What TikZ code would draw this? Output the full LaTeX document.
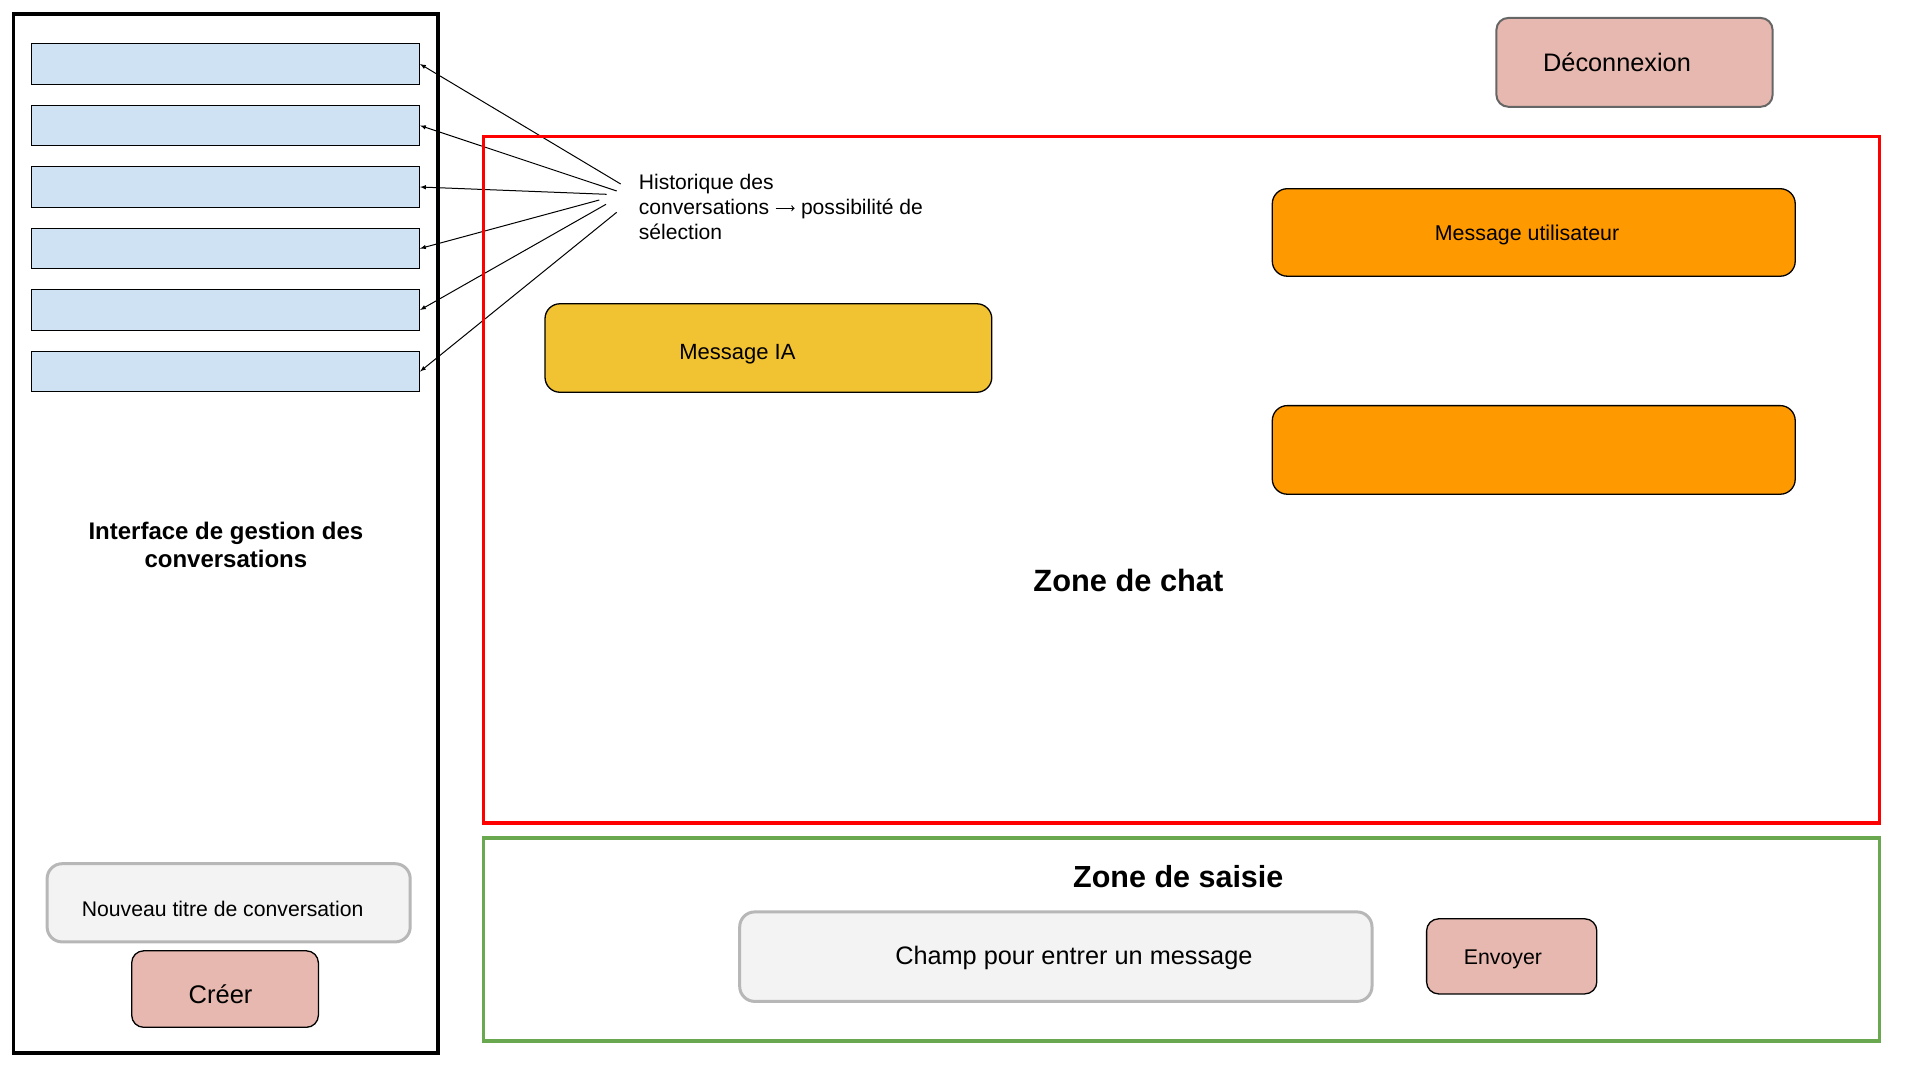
\documentclass[tikz,border=0pt]{standalone}
\usepackage{fontspec}
\setmainfont{Liberation Sans}
\usetikzlibrary{positioning}

\definecolor{convbleu}{HTML}{CFE2F3}
\definecolor{rose}{HTML}{E6B8AF}
\definecolor{orange}{HTML}{FF9900}
\definecolor{jaune}{HTML}{F1C232}
\definecolor{gristxt}{HTML}{F3F3F3}
\definecolor{grisbord}{HTML}{B7B7B7}
\definecolor{grisfonce}{HTML}{666666}
\definecolor{vert}{HTML}{6AA84F}
\definecolor{rouge}{HTML}{FF0000}

\newcommand{\fleche}{\tikz[baseline=0pt]\draw[-to, line width=1.2pt] (0pt,6pt) -- (19pt,6pt);}

\tikzset{
    convbox/.style={draw, line width=1.3pt, fill=convbleu, minimum width=387.6pt, minimum height=40.5pt, inner sep=0pt},
    bouton/.style={draw, line width=1.3pt, fill=rose, rounded corners=12pt, inner sep=0pt},
    bulle/.style={draw, line width=1.3pt, rounded corners=15pt, inner sep=0pt},
    saisie/.style={draw=grisbord, fill=gristxt, line width=3pt, rounded corners=15pt, inner sep=0pt},
    texte/.style={inner sep=0pt, font=\fontsize{#1}{25.2}\selectfont},
    titre/.style={inner sep=0pt, align=center, font=\bfseries\fontsize{#1}{28}\selectfont},
}

\begin{document}
\begin{tikzpicture}[x=1pt, y=-1pt]
    \useasboundingbox (0,0) rectangle (1920,1080);
    % panneau de gauche
    \draw[line width=3.5pt] (13.5,13.8) rectangle (438,1053);
    \foreach \i in {1,...,6}
        \node[convbox] (conv\i) at (225.6, 2.5+61.5*\i) {};
    \node[titre=24] (gestion) at (225.9,544.8) {Interface de gestion des\\conversations};
    \node[saisie, minimum width=363.1pt, minimum height=78.2pt] (nouveau) at (228.65,902.8) {};
    \node[texte=21.2] (nouveautxt) at ([shift={(-6,5.7)}]nouveau.center) {Nouveau titre de conversation};
    \node[bouton, minimum width=186.7pt, minimum height=76.5pt] (creer) at (225.05,989.05) {};
    \node[texte=25.5] (creertxt) at ([shift={(-4.5,4.9)}]creer.center) {Créer};

    % historique
    \node[texte=21.1, align=left, anchor=north west] (histo) at (638.7,173.6)
        {Historique des\\conversations \fleche{} possibilité de\\sélection};
    \foreach \i/\x/\y in {1/620.7/184, 2/616.7/191, 3/606.7/194.3, 4/599.3/200, 5/606/204.3, 6/616.7/212.3} {
        \coordinate (h\i) at (\x,\y);
        \draw[-latex, line width=1pt] (h\i) -- (conv\i.east);
    }

    % zone de chat
    \draw[rouge, line width=3.5pt] (483.7,136.4) rectangle (1879.7,823);
    \node[titre=30.8] (chat) at (1128.4,580.6) {Zone de chat};
    \node[bulle, fill=jaune, minimum width=446.8pt, minimum height=88.5pt] (ia) at (768.4,348) {};
    \node[texte=22] (iatxt) at ([shift={(-31,6.7)}]ia.center) {Message IA};
    \node[bulle, fill=orange, minimum width=522.9pt, minimum height=87.5pt] (user) at (1533.75,232.45) {};
    \node[texte=21.4] (usertxt) at ([shift={(-6.7,2.5)}]user.center) {Message utilisateur};
    \node[bulle, fill=orange, minimum width=522.9pt, minimum height=88.6pt] (user2) at (1533.75,449.9) {};

    \node[bouton, draw=grisfonce, line width=2pt, minimum width=276.2pt, minimum height=88.9pt] (deco) at (1634.5,62.35) {};
    \node[texte=25.3] (decotxt) at ([shift={(-17.5,0)}]deco.center) {Déconnexion};

    % zone de saisie
    \draw[vert, line width=3.5pt] (483.7,838.2) rectangle (1879.7,1041);
    \node[titre=30.5] (saisie) at (1178.3,876.8) {Zone de saisie};
    \node[saisie, minimum width=632.3pt, minimum height=89.5pt] (champ) at (1055.85,956.65) {};
    \node[texte=25.3] (champtxt) at ([shift={(18,1.7)}]champ.center) {Champ pour entrer un message};
    \node[bouton, minimum width=170.2pt, minimum height=75.1pt] (envoyer) at (1511.7,956.35) {};
    \node[texte=21.3] (envoyertxt) at ([shift={(-8.7,3)}]envoyer.center) {Envoyer};
\end{tikzpicture}
\end{document}
